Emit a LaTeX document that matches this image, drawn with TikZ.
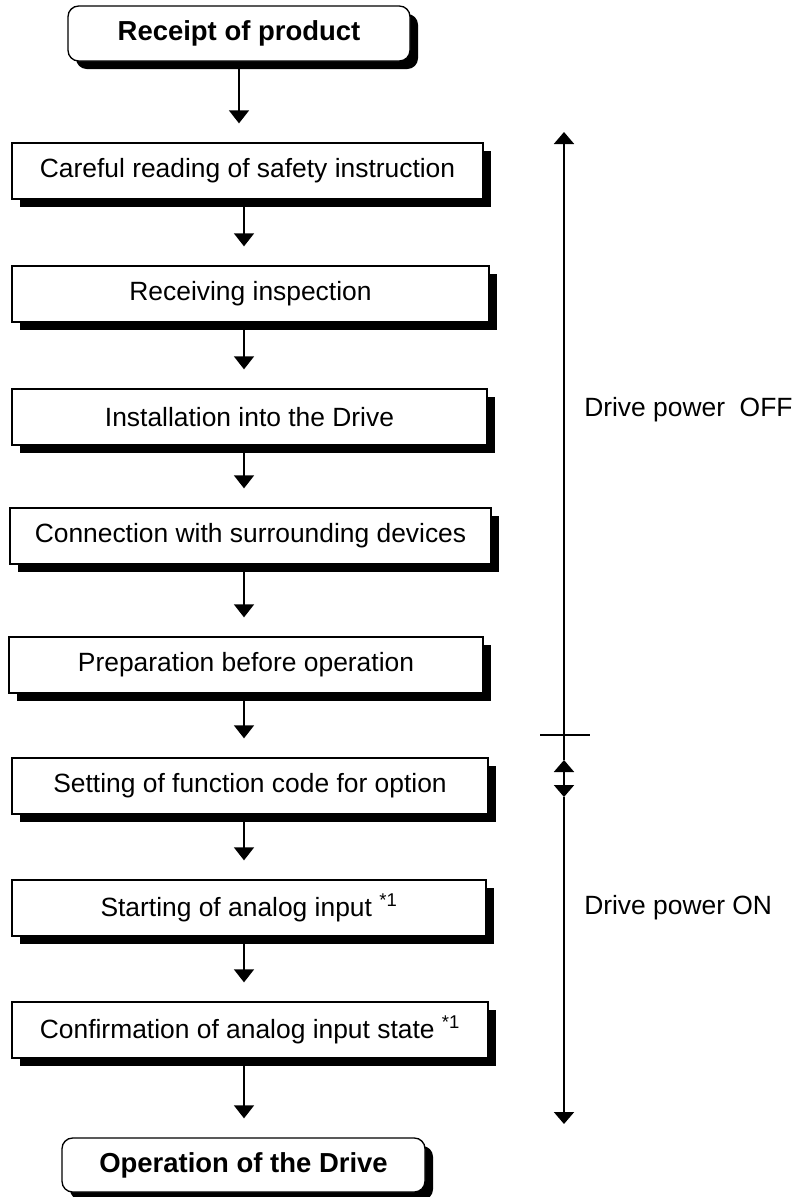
\documentclass[tikz,border=0pt]{standalone}
\usepackage{fontspec}
\setmainfont{Liberation Sans}
\usetikzlibrary{arrows.meta,shadows}
\tikzset{
  stepbox/.style={draw=black, line width=1pt, fill=white, inner sep=0pt,
    font=\fontsize{19.8}{24}\selectfont,
    drop shadow={shadow xshift=6pt, shadow yshift=-6pt, fill=black, opacity=1}},
  endbox/.style={stepbox, rounded corners=8pt, font=\fontsize{20.6}{25}\selectfont\bfseries},
  flow/.style={line width=1.1pt, -{Triangle[width=15pt,length=9.75pt]}, shorten >=14.25pt},
  side/.style={line width=1.5pt},
  sidetip/.style={-{Triangle[width=15pt,length=9pt]}},
  sidelabel/.style={anchor=west, inner sep=0pt, font=\fontsize{19.8}{24}\selectfont},
}
\newcommand\mkbox[7]{\node[#1, minimum width={(#5-#3)*0.75pt}, minimum height={(#6-#4)*0.75pt}] (#2) at ({(#3+#5)/2},{(#4+#6)/2}) {#7};}
\begin{document}
\begin{tikzpicture}[x=0.75pt,y=-0.75pt]
\useasboundingbox (0,0) rectangle (794,1197);
\mkbox{endbox}{r}{68}{6}{410}{61}{Receipt of product}
\mkbox{stepbox}{b1}{12}{143}{483}{199}{Careful reading of safety instruction}
\mkbox{stepbox}{b2}{12}{266}{489}{322}{Receiving inspection}
\mkbox{stepbox}{b3}{12}{389}{487}{445}{Installation into the Drive}
\mkbox{stepbox}{b4}{10}{508}{491}{564}{Connection with surrounding devices}
\mkbox{stepbox}{b5}{9}{637}{483}{693}{Preparation before operation}
\mkbox{stepbox}{b6}{12}{758}{488}{814}{Setting of function code for option}
\mkbox{stepbox}{b7}{12}{880}{486}{936}{Starting of analog input \textsuperscript{*1}}
\mkbox{stepbox}{b8}{12}{1002}{488}{1058}{Confirmation of analog input state \textsuperscript{*1}}
\mkbox{endbox}{o}{62}{1138}{425}{1192}{Operation of the Drive}

\coordinate (ax) at (244,0);
\draw[flow] (r.south) -- (b1.north -| r.south);
\draw[flow] (b1.south -| ax) -- (b2.north -| ax);
\draw[flow] (b2.south -| ax) -- (b3.north -| ax);
\draw[flow] (b3.south -| ax) -- (b4.north -| ax);
\draw[flow] (b4.south -| ax) -- (b5.north -| ax);
\draw[flow] (b5.south -| ax) -- (b6.north -| ax);
\draw[flow] (b6.south -| ax) -- (b7.north -| ax);
\draw[flow] (b7.south -| ax) -- (b8.north -| ax);
\draw[flow] (b8.south -| ax) -- (o.north -| ax);

\coordinate (t1) at (564,132);
\coordinate (k1) at (540,735);
\coordinate (k2) at (590,735);
\coordinate (u) at (564,760);
\coordinate (d) at (564,797);
\coordinate (e) at (564,1124);
\draw[side, sidetip] (u) -- (t1);
\draw[line width=1pt] (k1) -- (k2);
\draw[side, {Triangle[width=15pt,length=9pt]}-{Triangle[width=15pt,length=9pt]}] (u) -- (d);
\draw[side, sidetip] (d) -- (e);

\node[sidelabel] (off) at (584,410) {Drive power\ \ OFF};
\node[sidelabel] (on) at (584,908) {Drive power ON};
\end{tikzpicture}
\end{document}
